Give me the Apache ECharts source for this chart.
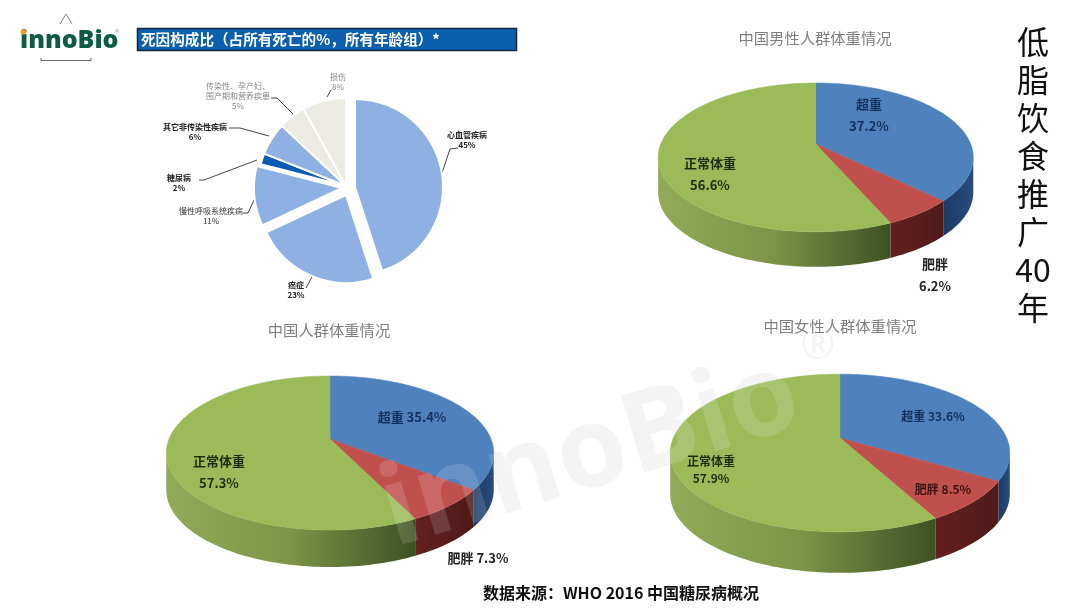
<!DOCTYPE html>
<html>
<head>
<meta charset="utf-8">
<style>html,body{margin:0;padding:0;background:#fff}#chart{width:1080px;height:608px}</style>
<script src="https://cdn.jsdelivr.net/npm/echarts@6/dist/echarts.min.js"></script>
</head>
<body>
<div id="chart"></div>
<script>
var FONT='"Noto Sans CJK SC","Noto Sans",sans-serif';

// 死因构成比
var causeNames=['心血管疾病','癌症','慢性呼吸系统疾病','糖尿病','其它非传染性疾病','传染性、孕产妇、\n围产期和营养疾患','损伤'];
var causeValues=[45,23,11,2,6,5,8];
var causeColors=['#8eb0e3','#8eb0e3','#8eb0e3','#0b5cb5','#8eb0e3','#ecebe3','#ecebe3'];
var causeTextColors=['#222','#222','#333','#222','#222','#888','#888'];
var causeBold=[true,true,false,true,true,false,false];
var causeLabelPos=[[467,140],[296,290],[211,216],[179,183],[195,132],[238,96],[338,82]];
var causeLines=[
  [[458,148],[450,149],[442,173]],
  [[306,288],[312,277]],
  [[243,213],[248,213],[254,200]],
  [[199,180],[204,180],[257,160]],
  [[229,128],[240,128],[269,136]],
  [[271,98],[277,98],[293,114]],
  [[327,97],[331,90]]
];
// 每组扇形一个圆心，分离的扇形单独成组
var causeGroups=[
  {center:[355,187],members:[0]},
  {center:[346,195],members:[1]},
  {center:[342,188],members:[2]},
  {center:[346,186],members:[3,4,5,6]}
];

// 体重情况
var weightNames=['超重','肥胖','正常体重'];
var maleValues=[37.2,6.2,56.6];
var allValues=[35.4,7.3,57.3];
var femaleValues=[33.6,8.5,57.9];
var topColors=['#4f81bd','#c0504d','#9bbb59'];

var sideChars=['低','脂','饮','食','推','广','40','年'];

function causePie(group){
  return {
    type:'pie',
    center:group.center,
    radius:[0,88],
    startAngle:90,
    clockwise:true,
    silent:true,
    animation:false,
    avoidLabelOverlap:false,
    label:{fontFamily:FONT,fontSize:8,lineHeight:10,align:'center',verticalAlign:'middle',
      formatter:function(p){return p.name+'\n'+p.value+'%'}},
    labelLine:{lineStyle:{color:'#444',width:1}},
    labelLayout:function(p){
      return {
        x:causeLabelPos[p.dataIndex][0],
        y:causeLabelPos[p.dataIndex][1],
        align:'center',
        verticalAlign:'middle',
        labelLinePoints:causeLines[p.dataIndex]
      };
    },
    data:causeNames.map(function(n,i){
      var on=group.members.indexOf(i)>=0;
      return {
        name:n,
        value:causeValues[i],
        itemStyle:on?{color:causeColors[i],borderColor:'#fff',borderWidth:2}:{color:'transparent',borderWidth:0},
        label:{show:on,color:causeTextColors[i],fontWeight:causeBold[i]?'bold':'normal'},
        labelLine:{show:on}
      };
    })
  };
}

function sideFill(i){
  var stops=[
    [[0,'#1d3a66'],[1,'#2a4b7c']],
    [[0,'#651f1f'],[1,'#4d1a18']],
    [[0,'#92aa58'],[0.5,'#7b9447'],[1,'#3e5022']]
  ][i];
  return new echarts.graphic.LinearGradient(0,0,1,0,stops.map(function(s){
    return {offset:s[0],color:s[1]};
  }));
}

// perspective pie: ax,ay apex, a,s radii, p perspective, depth wall height
function pie3d(values,cfg){
  var total=values.reduce(function(a,b){return a+b},0);
  function project(deg,dy){
    var t=deg*Math.PI/180;
    var w=1+cfg.p*Math.cos(t);
    return [cfg.ax+cfg.a*Math.sin(t)/w,cfg.ay-cfg.s*Math.cos(t)/w+(dy||0)];
  }
  function arc(from,to,dy){
    var pts=[],n=Math.max(2,Math.ceil((to-from)/1.5));
    for(var k=0;k<=n;k++){
      pts.push(project(from+(to-from)*k/n,dy));
    }
    return pts;
  }
  var edge=Math.acos(-cfg.p)*180/Math.PI;
  return {
    type:'custom',
    coordinateSystem:'none',
    silent:true,
    animation:false,
    data:values.map(function(v){return [v]}),
    renderItem:function(params,api){
      var i=params.dataIndex,before=0;
      for(var j=0;j<i;j++){before+=values[j];}
      var from=before/total*360;
      var to=from+api.value(0)/total*360;
      var children=[];
      var sFrom=Math.max(from,edge),sTo=Math.min(to,360-edge);
      if(sTo>sFrom){
        var wall=arc(sFrom,sTo,0).concat(arc(sFrom,sTo,cfg.depth).reverse());
        children.push({type:'polygon',shape:{points:wall},style:{fill:sideFill(i),stroke:null}});
      }
      children.push({
        type:'polygon',
        shape:{points:[[cfg.ax,cfg.ay]].concat(arc(from,to,0))},
        style:{fill:topColors[i],stroke:topColors[i],lineWidth:0.5}
      });
      var lab=cfg.labels[i];
      children.push({
        type:'text',
        z2:20,
        x:lab[0],
        y:lab[1],
        style:{
          text:lab[2].replace('{n}',weightNames[i]).replace('{v}',values[i].toFixed(1)+'%'),
          fill:lab[3],
          font:'bold '+cfg.fontSize+'px '+FONT,
          lineHeight:cfg.lineHeight,
          align:'center',
          verticalAlign:'middle'
        }
      });
      return {type:'group',children:children};
    }
  };
}

var seriesList=causeGroups.map(causePie).concat([
  pie3d(maleValues,{ax:815.7,ay:144,a:155,s:72,p:0.18,depth:35,fontSize:13,lineHeight:22,labels:[
    [869,115,'{n}\n{v}','#12305c'],[935,275,'{n}\n{v}','#222'],[710,174,'{n}\n{v}','#1d2d0c']
  ]}),
  pie3d(allValues,{ax:330,ay:439,a:161,s:74.5,p:0.182,depth:37,fontSize:13,lineHeight:22,labels:[
    [412,417,'{n} {v}','#12305c'],[478,558,'{n} {v}','#222'],[219,472,'{n}\n{v}','#1d2d0c']
  ]}),
  pie3d(femaleValues,{ax:840,ay:438,a:166.7,s:76,p:0.19,depth:41,fontSize:12,lineHeight:17,labels:[
    [933,416,'{n} {v}','#12305c'],[943,489,'{n} {v}','#3a1210'],[711,470,'{n}\n{v}','#1d2d0c']
  ]})
]);

// watermark: grey under the pies, faint white over them
function watermark(color,z){
  return [
    {type:'text',x:401,y:570,rotation:0.29,z:z,silent:true,
      style:{text:'innoBio',fill:color,font:'bold 112px "Open Sans",sans-serif',verticalAlign:'bottom'}},
    {type:'text',x:818,y:347,z:z,silent:true,
      style:{text:'®',fill:color,font:'42px "Open Sans",sans-serif',align:'center',verticalAlign:'middle'}}
  ];
}

var graphics=watermark('#f3f3f3',0).concat(watermark('rgba(255,255,255,0.14)',100)).concat([
  // header bar
  {type:'rect',shape:{x:137.5,y:28.5,width:379,height:22},style:{fill:'#0b5fad',stroke:'#10263f',lineWidth:1.5}},
  {type:'text',x:141,y:39.5,style:{text:'死因构成比（占所有死亡的%，所有年龄组）*',fill:'#fff',font:'bold 14.6px '+FONT,verticalAlign:'middle'}},
  // logo
  {type:'text',x:20,y:41,style:{text:'innoBio',fill:'#0d5a45',font:'900 25px "Open Sans",'+FONT,verticalAlign:'middle'}},
  {type:'circle',shape:{cx:23.5,cy:32,r:2.8},style:{fill:'#e8a020'}},
  {type:'text',x:115,y:33,style:{text:'®',fill:'#aaa',font:'9px '+FONT,verticalAlign:'middle'}},
  {type:'polyline',shape:{points:[[60,24],[66,14],[72,24]]},style:{fill:null,stroke:'#666',lineWidth:0.8}},
  {type:'polyline',shape:{points:[[41,58],[41,60.5],[91,60.5],[91,58]]},style:{fill:null,stroke:'#444',lineWidth:0.8}}
]);

sideChars.forEach(function(c,i){
  graphics.push({type:'text',x:1033,y:42+i*38,style:{text:c,fill:'#111',font:'32px '+FONT,align:'center',verticalAlign:'middle'}});
});

var objEcharts=echarts.init(document.getElementById('chart'),null,{renderer:'canvas'});
var titleStyle={color:'#7f7f7f',fontFamily:FONT,fontSize:15.3,fontWeight:'normal'};
objEcharts.setOption({
  backgroundColor:'#fff',
  animation:false,
  title:[
    {text:'中国男性人群体重情况',left:815,top:31,padding:0,textAlign:'center',textStyle:titleStyle},
    {text:'中国人群体重情况',left:329,top:323,padding:0,textAlign:'center',textStyle:titleStyle},
    {text:'中国女性人群体重情况',left:840,top:319,padding:0,textAlign:'center',textStyle:titleStyle},
    {text:'数据来源：WHO 2016 中国糖尿病概况',left:621,top:585,padding:0,textAlign:'center',
      textStyle:{color:'#111',fontFamily:FONT,fontSize:16,fontWeight:'bold'}}
  ],
  series:seriesList,
  graphic:{elements:graphics}
});
</script>
</body>
</html>
